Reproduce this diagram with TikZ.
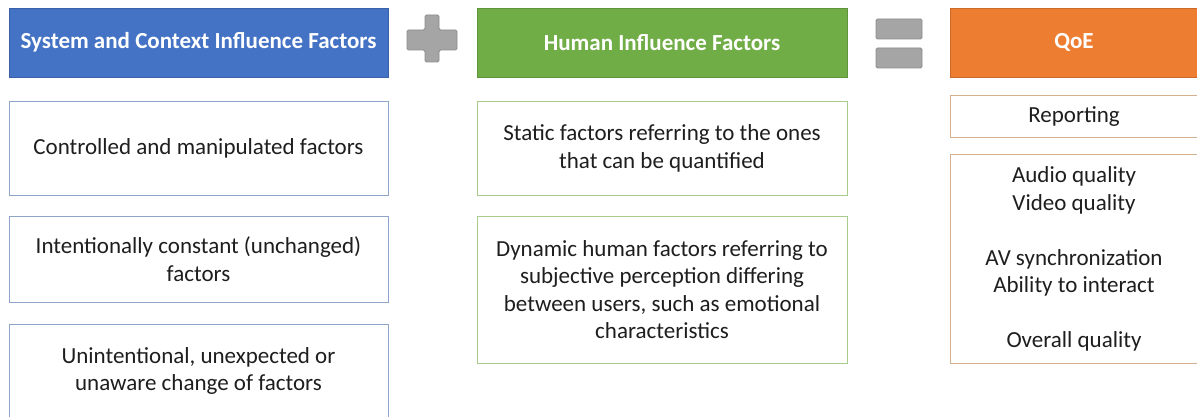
\documentclass[tikz,border=0pt]{standalone}
\usepackage{fontspec}
\setmainfont{Carlito}
\definecolor{hblue}{HTML}{4472C4}
\definecolor{hgreen}{HTML}{70AD47}
\definecolor{horange}{HTML}{ED7D31}
\definecolor{bblue}{HTML}{8EA4C8}
\definecolor{bgreen}{HTML}{A9CB8C}
\definecolor{borange}{HTML}{D5B08E}
\definecolor{sgray}{HTML}{A5A5A5}
\definecolor{sgrayd}{HTML}{8C8C8C}
\definecolor{txt}{HTML}{1E1E1E}
\tikzset{
  hdr/.style={anchor=north west, inner sep=0pt, outer sep=0pt, align=center,
    text=white, font=\fontsize{23}{27.5}\selectfont\bfseries, line width=0.8pt},
  itm/.style={anchor=north west, inner sep=0pt, outer sep=0pt, align=center, fill=white,
    text=txt, font=\fontsize{23}{27.5}\selectfont, line width=1pt},
  opsym/.style={fill=sgray, draw=sgrayd, line width=0.8pt, rounded corners=1.5pt}
}
\begin{document}
\begin{tikzpicture}[x=1pt,y=-1pt]
\useasboundingbox (0,0) rectangle (1197,417);
\clip (0,0) rectangle (1197,417);
\fill[white] (0,0) rectangle (1197,417);
% headers
\node[hdr, fill=hblue, draw=hblue!85!black, minimum width=379pt, minimum height=69pt] (h1) at (9,8) {System and Context Influence Factors};
\node[hdr, fill=hgreen, draw=hgreen!85!black, minimum width=370pt, minimum height=69pt] (h2) at (477,8) {Human Influence Factors};
\node[hdr, fill=horange, draw=horange!85!black, minimum width=248pt, minimum height=69pt] (h3) at (950,8) {QoE};
% plus sign
\filldraw[opsym] (425,15) -- (439,15) -- (439,30) -- (457,30) -- (457,50) -- (439,50) -- (439,62) -- (425,62) -- (425,50) -- (407,50) -- (407,30) -- (425,30) -- cycle;
% equals sign
\filldraw[opsym] (876,19) rectangle (922,39);
\filldraw[opsym] (876,48) rectangle (922,68);
% left column
\node[itm, draw=bblue, minimum width=379pt, minimum height=93pt] (l1) at (9,102) {Controlled and manipulated factors};
\node[itm, draw=bblue, minimum width=379pt, minimum height=86pt] (l2) at (9,216) {Intentionally constant (unchanged)\\factors};
\node[itm, draw=bblue, minimum width=379pt, minimum height=94pt] (l3) at (9,324) {Unintentional, unexpected or\\unaware change of factors};
% middle column
\node[itm, draw=bgreen, minimum width=370pt, minimum height=93pt] (m1) at (477,102) {Static factors referring to the ones\\that can be quantified};
\node[itm, draw=bgreen, minimum width=370pt, minimum height=147pt] (m2) at (477,216) {Dynamic human factors referring to\\subjective perception differing\\between users, such as emotional\\characteristics};
% right column
\node[itm, draw=borange, minimum width=248pt, minimum height=42pt] (r1) at (950,96) {Reporting};
\node[itm, draw=borange, minimum width=248pt, minimum height=208pt] (r2) at (950,155) {Audio quality\\Video quality\\[27.5pt]AV synchronization\\Ability to interact\\[27.5pt]Overall quality};
\end{tikzpicture}
\end{document}
